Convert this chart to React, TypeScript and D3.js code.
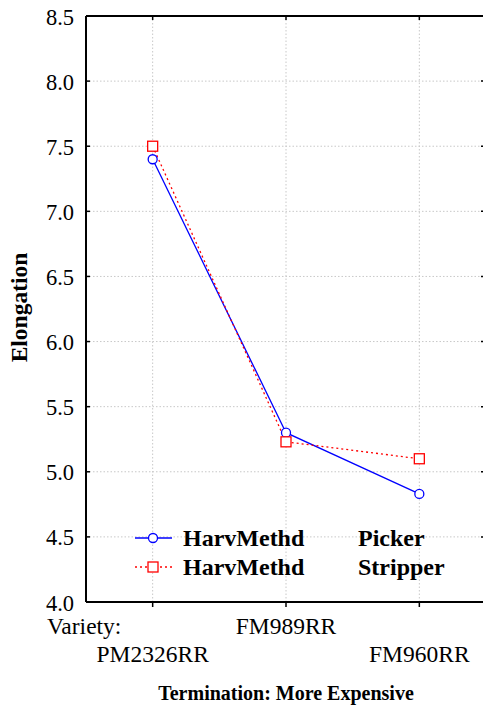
import React from "react";
import * as d3 from "d3";

const categories = ["PM2326RR", "FM989RR", "FM960RR"];
const pickerValues = [7.4, 5.3, 4.83];
const stripperValues = [7.5, 5.23, 5.1];
const yTicks = [4.0, 4.5, 5.0, 5.5, 6.0, 6.5, 7.0, 7.5, 8.0, 8.5];
const seriesNames = ["Picker", "Stripper"];

const W = 483;
const H = 709;
const left = 86;
const right = 486;
const top = 16;
const bottom = 602;
const font = "'Liberation Serif', 'Times New Roman', serif";

export default function App() {
  const x = d3.scalePoint<string>().domain(categories).range([left, right]).padding(0.5);
  const y = d3.scaleLinear().domain([4.0, 8.5]).range([bottom, top]);
  const line = d3
    .line<[string, number]>()
    .x((d) => x(d[0]) as number)
    .y((d) => y(d[1]));
  const pickerPts: [string, number][] = categories.map((c, i) => [c, pickerValues[i]]);
  const stripperPts: [string, number][] = categories.map((c, i) => [c, stripperValues[i]]);

  return (
    <svg
      width={W}
      height={H}
      style={{ position: "absolute", left: 0, top: 0, background: "#fff" }}
    >
      {/* grid */}
      {yTicks.map((t) => (
        <line key={"g" + t} x1={left} x2={right} y1={y(t)} y2={y(t)} stroke="#c8c8c8" strokeWidth={1} strokeDasharray="1.5,2" />
      ))}
      {categories.map((c) => (
        <line key={"gx" + c} x1={x(c)} x2={x(c)} y1={top} y2={bottom} stroke="#c8c8c8" strokeWidth={1} strokeDasharray="1.5,2" />
      ))}
      {/* axes box */}
      <line x1={left} x2={left} y1={top} y2={bottom} stroke="#000" strokeWidth={2} />
      <line x1={left} x2={right} y1={top} y2={top} stroke="#000" strokeWidth={2} />
      <line x1={left} x2={right} y1={bottom} y2={bottom} stroke="#000" strokeWidth={2} />
      <line x1={right - 1} x2={right - 1} y1={top} y2={bottom} stroke="#000" strokeWidth={2} />
      {/* y ticks */}
      {yTicks.map((t) => (
        <g key={"t" + t}>
          <line x1={left} x2={left + 4} y1={y(t)} y2={y(t)} stroke="#000" strokeWidth={1.5} />
          <line x1={right - 5} x2={right - 1} y1={y(t)} y2={y(t)} stroke="#000" strokeWidth={1.5} />
          <text x={74} y={y(t)} dy="0.38em" textAnchor="end" fontFamily={font} fontSize={22.5}>
            {t.toFixed(1)}
          </text>
        </g>
      ))}
      {/* x ticks */}
      {categories.map((c) => (
        <g key={"xt" + c}>
          <line x1={x(c)} x2={x(c)} y1={top} y2={top + 4} stroke="#000" strokeWidth={1.5} />
          <line x1={x(c)} x2={x(c)} y1={bottom} y2={bottom + 5} stroke="#000" strokeWidth={1.5} />
        </g>
      ))}
      {/* category labels */}
      <text x={47} y={634} fontFamily={font} fontSize={23.5}>Variety:</text>
      {categories.map((c, i) => (
        <text
          key={"xl" + c}
          x={x(c)}
          y={i % 2 === 1 ? 634 : 662}
          textAnchor="middle"
          fontFamily={font}
          fontSize={23.5}
        >
          {c}
        </text>
      ))}
      <text x={286} y={700} textAnchor="middle" fontFamily={font} fontSize={20} fontWeight="bold">
        Termination: More Expensive
      </text>
      <text
        transform={`translate(27,${307.5}) rotate(-90)`}
        textAnchor="middle"
        fontFamily={font}
        fontSize={23.5}
        fontWeight="bold"
      >
        Elongation
      </text>
      {/* series */}
      <path d={line(pickerPts) || ""} fill="none" stroke="#0000ff" strokeWidth={1.3} />
      <path d={line(stripperPts) || ""} fill="none" stroke="#ff0000" strokeWidth={1.3} strokeDasharray="2,3" />
      {pickerPts.map((p) => (
        <circle key={"pc" + p[0]} cx={x(p[0])} cy={y(p[1])} r={4.5} fill="#fff" stroke="#0000ff" strokeWidth={1.3} />
      ))}
      {stripperPts.map((p) => (
        <rect key={"sr" + p[0]} x={(x(p[0]) as number) - 5} y={y(p[1]) - 5} width={10} height={10} fill="#fff" stroke="#ff0000" strokeWidth={1.3} />
      ))}
      {/* legend */}
      <g>
        <line x1={135} x2={172} y1={538} y2={538} stroke="#0000ff" strokeWidth={1.3} />
        <circle cx={153} cy={538} r={4.5} fill="#fff" stroke="#0000ff" strokeWidth={1.3} />
        <text x={183} y={546} fontFamily={font} fontSize={24} fontWeight="bold">HarvMethd</text>
        <text x={358} y={546} fontFamily={font} fontSize={24} fontWeight="bold">{seriesNames[0]}</text>
        <line x1={135} x2={172} y1={567} y2={567} stroke="#ff0000" strokeWidth={1.3} strokeDasharray="2,3" />
        <rect x={148} y={562} width={10} height={10} fill="#fff" stroke="#ff0000" strokeWidth={1.3} />
        <text x={183} y={575} fontFamily={font} fontSize={24} fontWeight="bold">HarvMethd</text>
        <text x={358} y={575} fontFamily={font} fontSize={24} fontWeight="bold">{seriesNames[1]}</text>
      </g>
    </svg>
  );
}
